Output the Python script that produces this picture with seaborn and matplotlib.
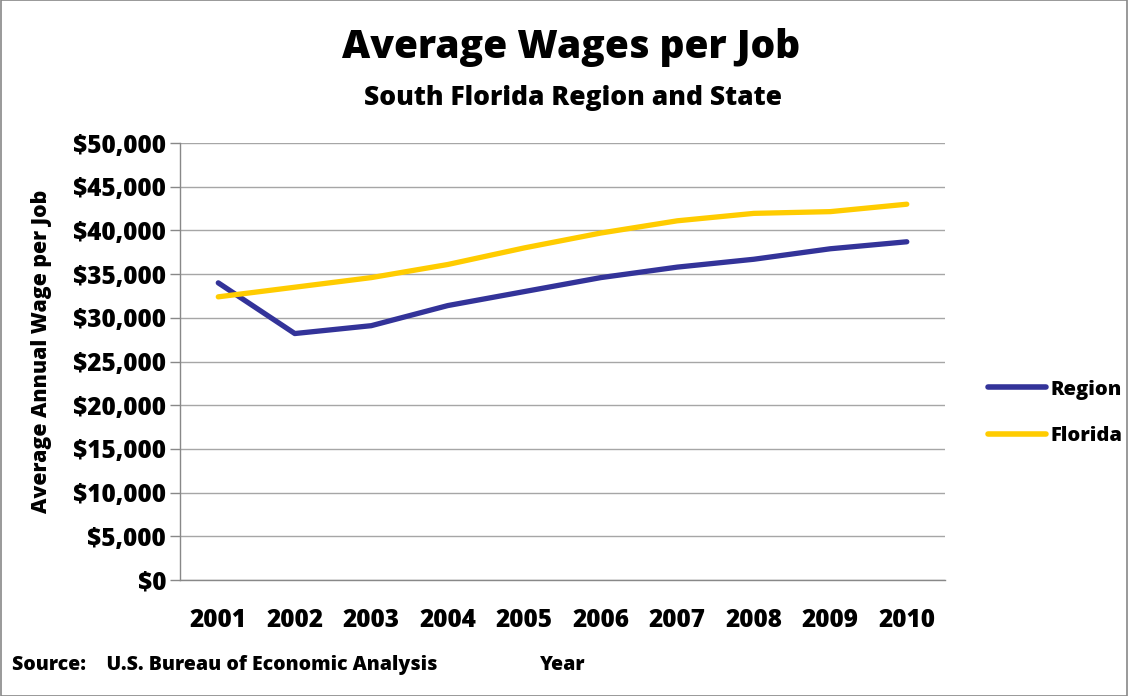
import pandas as pd
import matplotlib
matplotlib.use("Agg")
import matplotlib.pyplot as plt
import seaborn as sns
from matplotlib.patches import Rectangle

# data
years = ["2001", "2002", "2003", "2004", "2005", "2006", "2007", "2008", "2009", "2010"]
region = [34000, 28200, 29100, 31400, 33000, 34600, 35800, 36700, 37900, 38700]
florida = [32400, 33500, 34600, 36100, 38000, 39700, 41100, 41950, 42150, 43000]
y_ticks = list(range(0, 50001, 5000))

df = pd.DataFrame({
    "Year": years * 2,
    "Wage": region + florida,
    "Series": ["Region"] * len(years) + ["Florida"] * len(years),
})

sns.set_theme(style="white")
plt.rcParams["font.family"] = ["Open Sans", "DejaVu Sans"]
plt.rcParams["font.weight"] = "bold"
for key in ["text.color", "axes.labelcolor", "xtick.labelcolor", "ytick.labelcolor"]:
    plt.rcParams[key] = "black"

W = 800  # heavy weight to get closer to the chunky original

fig = plt.figure(figsize=(11.28, 6.96), dpi=100)
ax = fig.add_axes([0.1596, 0.1667, 0.8378 - 0.1596, 0.7945 - 0.1667])

sns.lineplot(data=df, x="Year", y="Wage", hue="Series",
             palette={"Region": "#333399", "Florida": "#FFCC00"},
             linewidth=3.8, ax=ax, sort=False)
for ln in ax.lines:
    ln.set_solid_capstyle("round")
    ln.set_solid_joinstyle("round")

ax.set_xlim(-0.5, len(years) - 0.5)
ax.set_ylim(0, 50000)
ax.set_yticks(y_ticks)
ax.set_yticklabels([f"${v:,}" for v in y_ticks], fontsize=17.5, fontweight=W)
ax.set_xticks(range(len(years)))
ax.set_xticklabels(years, fontsize=17.5, fontweight=W)
ax.tick_params(axis="x", length=0, pad=20)
ax.tick_params(axis="y", length=7, width=1, color="#888888", direction="out", left=True, pad=3)
ax.yaxis.grid(True, color="#a6a6a6", linewidth=1)
ax.xaxis.grid(False)
for side in ["top", "right"]:
    ax.spines[side].set_visible(False)
for side in ["left", "bottom"]:
    ax.spines[side].set_color("#888888")
    ax.spines[side].set_linewidth(1)

ax.set_xlabel("")
ax.set_ylabel("Average Annual Wage per Job", fontsize=15.3, fontweight=W)
ax.yaxis.set_label_coords(-0.168, 0.524)

leg = ax.legend(loc="center left", bbox_to_anchor=(1.033, 0.383), frameon=False,
                fontsize=14.5, handlelength=2.85, labelspacing=1.3, handletextpad=0.25)
for t in leg.get_texts():
    t.set_fontweight(W)
for h in leg.get_lines():
    h.set_linewidth(4)

fig.text(0.506, 0.932, "Average Wages per Job", ha="center", va="center",
         fontsize=28, fontweight=W)
fig.text(0.508, 0.859, "South Florida Region and State", ha="center", va="center",
         fontsize=19, fontweight=W)
fig.text(0.011, 0.045, "Source:    U.S. Bureau of Economic Analysis", ha="left", va="center",
         fontsize=14, fontweight=W)
fig.text(0.499, 0.045, "Year", ha="center", va="center", fontsize=14, fontweight=W)

fig.patches.append(Rectangle((0.0005, 0.0005), 0.999, 0.999, transform=fig.transFigure,
                             fill=False, edgecolor="#888888", linewidth=1.2))

fig.savefig("out.png", dpi=100)
